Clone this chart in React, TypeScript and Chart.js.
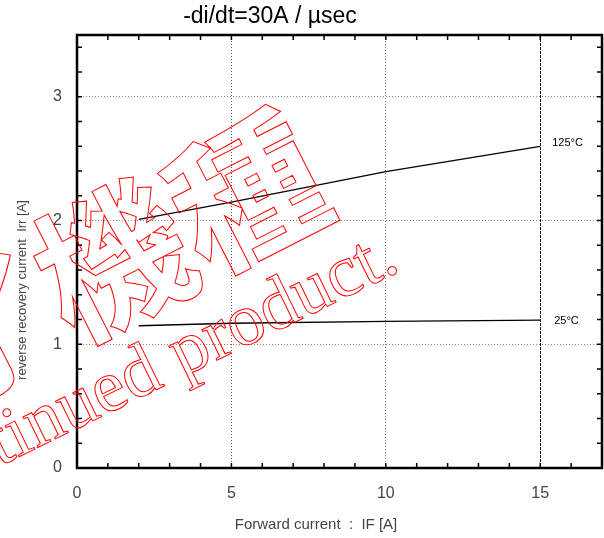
import React, { useEffect, useRef } from 'react';
import { Chart, registerables } from 'chart.js';

Chart.register(...registerables);

// ---- data ----
const currents125 = [2, 5, 10, 15];
const recovery125 = [2.01, 2.15, 2.395, 2.6];
const currents25 = [2, 5, 10, 15];
const recovery25 = [1.15, 1.17, 1.185, 1.195];
const seriesLabels = ['125°C', '25°C'];
const xTickValues = [0, 5, 10, 15];
const yTickValues = [0, 1, 2, 3];
const xMinorStep = 1;
const yMinorStep = 0.2;
const xMax = 17;
const yMax = 3.5;
const titleText = '-di/dt=30A / µsec';
const xTitleText = 'Forward current  :  IF [A]';
const yTitleText = 'reverse recovery current  Irr [A]';
const watermarkJa = '生産終了機種';
const watermarkEn = 'Discontinued product.';

const SANS = "'Liberation Sans', Arial, sans-serif";

export default function App() {
  const canvasRef = useRef<HTMLCanvasElement>(null);

  useEffect(() => {
    const canvas = canvasRef.current;
    if (!canvas) return;

    const decor = {
      id: 'decor',
      afterDraw(chart: any) {
        const { ctx, chartArea: a } = chart;
        const xs = chart.scales.x;
        const ys = chart.scales.y;
        ctx.save();

        // inward minor/major ticks on all four sides
        ctx.strokeStyle = '#000';
        ctx.lineWidth = 1.5;
        ctx.beginPath();
        for (let k = 0; k * xMinorStep <= xMax + 1e-9; k++) {
          const px = xs.getPixelForValue(k * xMinorStep);
          ctx.moveTo(px, a.bottom);
          ctx.lineTo(px, a.bottom - 5);
          ctx.moveTo(px, a.top);
          ctx.lineTo(px, a.top + 5);
        }
        for (let k = 0; k * yMinorStep <= yMax + 1e-9; k++) {
          const py = ys.getPixelForValue(k * yMinorStep);
          ctx.moveTo(a.left, py);
          ctx.lineTo(a.left + 5, py);
          ctx.moveTo(a.right, py);
          ctx.lineTo(a.right - 5, py);
        }
        ctx.stroke();

        // frame
        ctx.lineWidth = 2.5;
        ctx.strokeRect(a.left, a.top, a.right - a.left, a.bottom - a.top);

        // series labels
        ctx.fillStyle = '#000';
        ctx.font = "11px 'Liberation Sans Narrow', 'Liberation Sans', sans-serif";
        ctx.textAlign = 'left';
        ctx.textBaseline = 'middle';
        const last125 = currents125.length - 1;
        const last25 = currents25.length - 1;
        ctx.fillText(
          seriesLabels[0],
          xs.getPixelForValue(currents125[last125]) + 12,
          ys.getPixelForValue(recovery125[last125]) - 3
        );
        ctx.fillText(
          seriesLabels[1],
          xs.getPixelForValue(currents25[last25]) + 14,
          ys.getPixelForValue(recovery25[last25]) + 1
        );

        // title
        ctx.font = `23px ${SANS}`;
        ctx.textAlign = 'center';
        ctx.textBaseline = 'middle';
        ctx.fillStyle = '#000';
        ctx.fillText(titleText, 270, 17);

        // axis titles
        ctx.fillStyle = '#444';
        ctx.font = `15px ${SANS}`;
        ctx.fillText(xTitleText, 316, 525);
        ctx.save();
        ctx.translate(22, 290);
        ctx.rotate(-Math.PI / 2);
        ctx.font = `13px ${SANS}`;
        ctx.fillText(yTitleText, 0, 0);
        ctx.restore();

        // watermark
        ctx.strokeStyle = '#ff0000';
        ctx.lineWidth = 1;
        ctx.save();
        ctx.translate(246, 192);
        ctx.rotate((-27 * Math.PI) / 180);
        ctx.font = "bold 150px 'Noto Sans CJK JP', sans-serif";
        ctx.textAlign = 'right';
        ctx.textBaseline = 'middle';
        ctx.strokeText(watermarkJa, 75, 0);
        ctx.restore();

        ctx.save();
        ctx.translate(402, 270);
        ctx.rotate((-26 * Math.PI) / 180);
        ctx.font = "74px 'Liberation Serif', serif";
        ctx.textAlign = 'right';
        ctx.textBaseline = 'alphabetic';
        ctx.strokeText(watermarkEn, 0, 0);
        ctx.restore();

        ctx.restore();
      },
    };

    const tickFont = { family: SANS, size: 16 };

    const chart = new Chart(canvas, {
      type: 'line',
      data: {
        datasets: [
          {
            label: seriesLabels[0],
            data: currents125.map((x, i) => ({ x, y: recovery125[i] })),
            borderColor: '#000',
            borderWidth: 1.3,
            pointRadius: 0,
            tension: 0,
          },
          {
            label: seriesLabels[1],
            data: currents25.map((x, i) => ({ x, y: recovery25[i] })),
            borderColor: '#000',
            borderWidth: 1.3,
            pointRadius: 0,
            tension: 0,
          },
        ],
      },
      options: {
        responsive: false,
        animation: false,
        events: [],
        layout: { padding: { top: 35, right: 2, left: 0, bottom: 0 } },
        plugins: {
          legend: { display: false },
          title: { display: false },
          tooltip: { enabled: false },
        },
        scales: {
          x: {
            type: 'linear',
            min: 0,
            max: xMax,
            afterBuildTicks: (s: any) => {
              s.ticks = xTickValues.map((v) => ({ value: v }));
            },
            afterFit: (s: any) => {
              s.height = 70;
            },
            grid: {
              drawTicks: false,
              lineWidth: 1,
              color: (c: any) =>
                c.tick && c.tick.value === 0
                  ? 'rgba(0,0,0,0)'
                  : c.tick && c.tick.value === 15
                  ? '#222'
                  : c.tick && c.tick.value === 5
                  ? '#555'
                  : '#777',
            },
            border: {
              display: false,
              dash: (c: any) => (c.tick && c.tick.value === 15 ? [3, 1] : [1, 2]),
            },
            ticks: {
              padding: 16,
              color: '#444',
              font: tickFont,
              autoSkip: false,
              maxRotation: 0,
              callback: (v: any) => String(v),
            },
          },
          y: {
            type: 'linear',
            min: 0,
            max: yMax,
            afterBuildTicks: (s: any) => {
              s.ticks = yTickValues.map((v) => ({ value: v }));
            },
            afterFit: (s: any) => {
              s.width = 77;
            },
            grid: {
              drawTicks: false,
              lineWidth: 1,
              color: (c: any) => (c.tick && c.tick.value === 0 ? 'rgba(0,0,0,0)' : '#888'),
            },
            border: { display: false, dash: [1, 2] },
            ticks: {
              padding: 15,
              color: '#444',
              font: tickFont,
              autoSkip: false,
              callback: (v: any) => String(v),
            },
          },
        },
      },
      plugins: [decor],
    } as any);

    return () => chart.destroy();
  }, []);

  return (
    <div style={{ position: 'absolute', left: 0, top: 0, width: 604, height: 538, background: '#fff' }}>
      <canvas ref={canvasRef} width={604} height={538} style={{ display: 'block', width: 604, height: 538 }} />
    </div>
  );
}
